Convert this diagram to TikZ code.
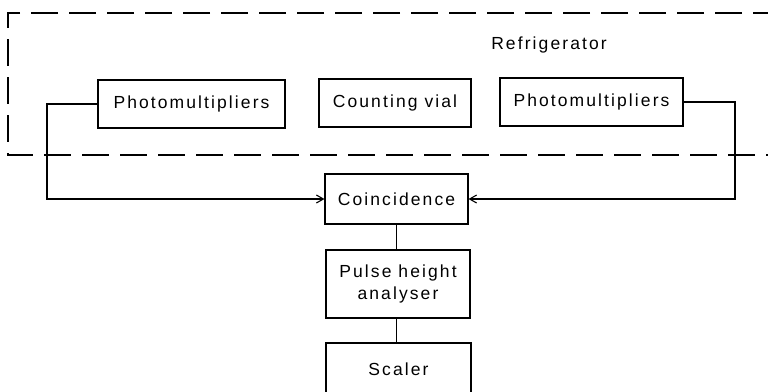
\documentclass[tikz,border=0pt]{standalone}
\usepackage{fontspec}
\setmainfont{Liberation Sans}[LetterSpace=12]
\usetikzlibrary{arrows.meta}
\begin{document}
\begin{tikzpicture}[x=1pt,y=-1pt,
  line width=1.1pt,
  every node/.style={font=\fontsize{17.5}{22}\selectfont},
  blockbox/.style={draw,line width=1.1pt,minimum height=48pt,inner sep=0pt,align=center},
  fridge/.style={line width=1.1pt,dash pattern=on 27pt off 11pt},
  sig/.style={line width=1.1pt},
  tip/.style={-{Straight Barb[length=7pt,width=8pt,line width=1.1pt]}}]
\useasboundingbox (0,0) rectangle (768,391);

% refrigerator enclosure, open to the right
\draw[fridge] (780,13) -- (8,13) -- (8,155) -- (780,155);
\node (fridgelabel) at (549,45) {Refrigerator};

% blocks inside the refrigerator
\node[blockbox,minimum width=187pt] (pmL) at (191.5,104) {Photomultipliers};
\node[blockbox,minimum width=152pt] (vial) at (395,103) {Counting vial};
\node[blockbox,minimum width=183pt] (pmR) at (591.5,102) {Photomultipliers};

% processing chain
\node[blockbox,minimum width=143pt,minimum height=50pt] (coinc) at (396.5,199) {Coincidence};
\node[blockbox,minimum width=144pt,minimum height=68pt] (pha) at (398,284) {Pulse height\\analyser};
\node[blockbox,minimum width=145pt,minimum height=52pt] (scaler) at (398.5,369) {Scaler};

\coordinate (lcol) at (47,0);
\coordinate (rcol) at (735,0);

% photomultiplier outputs into the coincidence unit
\draw[sig,tip] (pmL.west) -- (pmL.west -| lcol) |- (coinc.west);
\draw[sig,tip] (pmR.east) -- (pmR.east -| rcol) |- (coinc.east);

% chain links
\draw[sig] (coinc.south) -- (coinc.south |- pha.north);
\draw[sig] (coinc.south |- pha.south) -- (coinc.south |- scaler.north);
\end{tikzpicture}
\end{document}
